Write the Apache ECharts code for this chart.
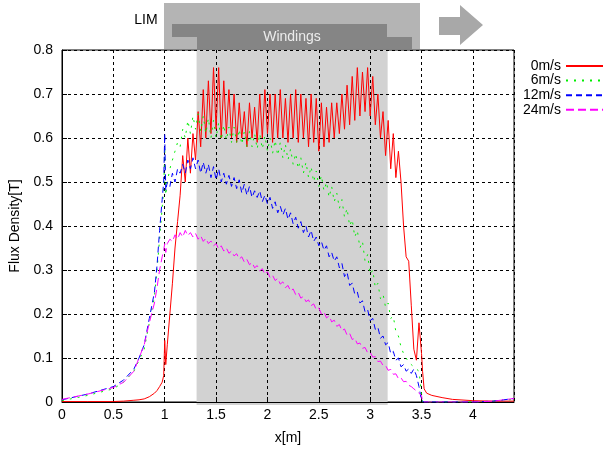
<!DOCTYPE html>
<html>
<head>
<meta charset="utf-8">
<script src="https://cdn.jsdelivr.net/npm/echarts@6/dist/echarts.min.js"></script>
<style>html,body{margin:0;padding:0;background:#fff;}#c{width:604px;height:451px;}</style>
</head>
<body>
<div id="c"></div>
<script>
// shared x positions [m]
const X = [
 0, 0.25, 0.5, 0.6, 0.7, 0.75, 0.8, 0.85, 0.9, 0.925,
 0.95, 0.975, 0.99, 1.0, 1.01, 1.025, 1.05, 1.075, 1.1, 1.125,
 1.15, 1.175, 1.2, 1.225, 1.25, 1.275, 1.3, 1.325, 1.35, 1.375,
 1.4, 1.425, 1.45, 1.475, 1.5, 1.525, 1.55, 1.575, 1.6, 1.625,
 1.65, 1.675, 1.7, 1.725, 1.75, 1.775, 1.8, 1.825, 1.85, 1.875,
 1.9, 1.925, 1.95, 1.975, 2.0, 2.025, 2.05, 2.075, 2.1, 2.125,
 2.15, 2.175, 2.2, 2.225, 2.25, 2.275, 2.3, 2.325, 2.35, 2.375,
 2.4, 2.425, 2.45, 2.475, 2.5, 2.525, 2.55, 2.575, 2.6, 2.625,
 2.65, 2.675, 2.7, 2.725, 2.75, 2.775, 2.8, 2.825, 2.85, 2.875,
 2.9, 2.925, 2.95, 2.975, 3.0, 3.025, 3.05, 3.075, 3.1, 3.125,
 3.15, 3.175, 3.2, 3.225, 3.25, 3.275, 3.3, 3.325, 3.35, 3.375,
 3.4, 3.425, 3.45, 3.475, 3.5, 3.51, 3.525, 3.55, 3.6, 3.7,
 3.8, 4.0, 4.2, 4.3, 4.4
];
// 0 m/s
const V0 = [
 0.001, 0.001, 0.001, 0.002, 0.004, 0.005, 0.007, 0.012, 0.02, 0.026,
 0.035, 0.045, 0.06, 0.14, 0.085, 0.13, 0.2, 0.27, 0.35, 0.41,
 0.47, 0.56, 0.5, 0.6, 0.52, 0.61, 0.55, 0.66, 0.58, 0.71,
 0.6, 0.73, 0.61, 0.76, 0.62, 0.76, 0.6, 0.73, 0.61, 0.71,
 0.6, 0.7, 0.59, 0.68, 0.6, 0.66, 0.58, 0.68, 0.6, 0.67,
 0.59, 0.7, 0.6, 0.71, 0.61, 0.7, 0.59, 0.7, 0.6, 0.71,
 0.6, 0.69, 0.59, 0.7, 0.6, 0.71, 0.59, 0.7, 0.6, 0.69,
 0.58, 0.7, 0.59, 0.69, 0.57, 0.68, 0.58, 0.67, 0.59, 0.68,
 0.6, 0.68, 0.61, 0.7, 0.62, 0.72, 0.63, 0.74, 0.64, 0.76,
 0.65, 0.75, 0.66, 0.76, 0.65, 0.74, 0.63, 0.7, 0.6, 0.66,
 0.56, 0.64, 0.53, 0.61, 0.51, 0.57, 0.5, 0.4, 0.33, 0.32,
 0.22, 0.12, 0.095, 0.18, 0.11, 0.07, 0.03, 0.02, 0.015, 0.01,
 0.006, 0.003, 0.002, 0.002, 0.002
];
// 6 m/s
const V6 = [
 0.003, 0.015, 0.03, 0.045, 0.07, 0.095, 0.12, 0.18, 0.24, 0.3,
 0.37, 0.44, 0.48, 0.58, 0.47, 0.5, 0.53, 0.55, 0.57, 0.59,
 0.58, 0.62, 0.6, 0.64, 0.61, 0.65, 0.62, 0.655, 0.615, 0.65,
 0.61, 0.645, 0.6, 0.64, 0.6, 0.635, 0.595, 0.63, 0.595, 0.625,
 0.59, 0.625, 0.59, 0.62, 0.585, 0.615, 0.58, 0.615, 0.58, 0.61,
 0.575, 0.61, 0.575, 0.605, 0.57, 0.6, 0.565, 0.595, 0.56, 0.59,
 0.555, 0.585, 0.55, 0.575, 0.54, 0.565, 0.53, 0.555, 0.52, 0.545,
 0.51, 0.535, 0.5, 0.525, 0.49, 0.515, 0.48, 0.5, 0.465, 0.49,
 0.455, 0.475, 0.44, 0.46, 0.42, 0.44, 0.4, 0.415, 0.375, 0.39,
 0.35, 0.365, 0.32, 0.335, 0.29, 0.3, 0.26, 0.27, 0.235, 0.245,
 0.215, 0.225, 0.19, 0.195, 0.16, 0.15, 0.125, 0.11, 0.1, 0.09,
 0.085, 0.08, 0.075, 0.07, 0.02, 0.0, 0.0, 0.0, 0.0, 0.0,
 0.0, 0.0, 0.002, 0.004, 0.006
];
// 12 m/s
const V12 = [
 0.005, 0.018, 0.035, 0.05, 0.075, 0.1, 0.13, 0.19, 0.25, 0.31,
 0.39, 0.46, 0.5, 0.61, 0.48, 0.5, 0.49, 0.52, 0.5, 0.53,
 0.52, 0.54, 0.52, 0.55, 0.53, 0.555, 0.53, 0.55, 0.52, 0.545,
 0.52, 0.54, 0.51, 0.535, 0.505, 0.53, 0.5, 0.52, 0.495, 0.515,
 0.49, 0.51, 0.485, 0.505, 0.475, 0.495, 0.47, 0.49, 0.465, 0.48,
 0.465, 0.48, 0.455, 0.47, 0.45, 0.465, 0.44, 0.455, 0.43, 0.445,
 0.425, 0.44, 0.415, 0.43, 0.405, 0.42, 0.395, 0.41, 0.385, 0.4,
 0.375, 0.39, 0.365, 0.375, 0.355, 0.365, 0.345, 0.355, 0.33, 0.34,
 0.32, 0.33, 0.305, 0.315, 0.285, 0.295, 0.265, 0.27, 0.245, 0.25,
 0.225, 0.23, 0.205, 0.21, 0.185, 0.19, 0.165, 0.17, 0.145, 0.15,
 0.13, 0.135, 0.11, 0.115, 0.095, 0.1, 0.08, 0.085, 0.07, 0.075,
 0.065, 0.075, 0.06, 0.035, 0.003, 0.0, 0.0, 0.0, 0.0, 0.0,
 0.0, 0.0, 0.002, 0.005, 0.008
];
// 24 m/s
const V24 = [
 0.006, 0.018, 0.033, 0.045, 0.07, 0.1, 0.13, 0.18, 0.225, 0.26,
 0.3, 0.33, 0.345, 0.36, 0.34, 0.36, 0.37, 0.365, 0.38, 0.37,
 0.385, 0.375, 0.39, 0.378, 0.385, 0.375, 0.383, 0.37, 0.378, 0.365,
 0.372, 0.36, 0.366, 0.355, 0.36, 0.348, 0.355, 0.343, 0.35, 0.338,
 0.343, 0.332, 0.337, 0.325, 0.33, 0.318, 0.324, 0.312, 0.317, 0.305,
 0.31, 0.298, 0.303, 0.29, 0.296, 0.283, 0.288, 0.276, 0.281, 0.268,
 0.273, 0.26, 0.265, 0.252, 0.257, 0.244, 0.249, 0.236, 0.24, 0.228,
 0.232, 0.219, 0.223, 0.21, 0.214, 0.2, 0.205, 0.191, 0.196, 0.182,
 0.186, 0.172, 0.176, 0.162, 0.166, 0.152, 0.156, 0.142, 0.145, 0.132,
 0.134, 0.122, 0.124, 0.112, 0.113, 0.102, 0.103, 0.092, 0.093, 0.083,
 0.083, 0.072, 0.074, 0.063, 0.064, 0.053, 0.055, 0.046, 0.047, 0.038,
 0.035, 0.03, 0.025, 0.02, 0.015, 0.0, 0.0, 0.0, 0.0, 0.0,
 0.0, 0.0, 0.002, 0.005, 0.008
];
const SERIES_NAMES = ['0m/s', '6m/s', '12m/s', '24m/s'];
const WINDINGS_BAND = [1.31, 3.17]; // x range of windings [m]

const FONT = 'Liberation Sans';
const pairs = (xs, ys) => xs.map((x, i) => [x, ys[i]]);
const chart = echarts.init(document.getElementById('c'), null, {renderer: 'canvas'});

function lineSeries(name, ys, color, dash) {
  return {
    name, type: 'line', data: pairs(X, ys), symbol: 'none', showSymbol: false,
    lineStyle: {color, width: 1, type: dash}, itemStyle: {color},
    z: 2, animation: false
  };
}

const option = {
  animation: false,
  grid: {left: 62, right: 90, top: 50, bottom: 49, show: true, borderColor: '#000', borderWidth: 1},
  xAxis: {
    type: 'value', min: 0, max: 4.4, interval: 0.5, z: 1,
    name: 'x[m]', nameLocation: 'middle', nameGap: 29,
    nameTextStyle: {fontFamily: FONT, fontSize: 14, color: '#000'},
    axisLine: {show: true, lineStyle: {color: '#000'}},
    axisTick: {show: true, inside: true, length: 5, lineStyle: {color: '#000'}},
    axisLabel: {fontFamily: FONT, fontSize: 14, color: '#000', margin: 6, showMaxLabel: false,
      formatter: v => (Math.abs(v - 4.4) < 1e-9 ? '' : String(v))},
    splitLine: {show: true, lineStyle: {color: '#000', type: [3, 3], width: 1}}
  },
  yAxis: {
    type: 'value', min: 0, max: 0.8, interval: 0.1, z: 1,
    name: 'Flux Density[T]', nameLocation: 'middle', nameGap: 36, nameRotate: 90,
    nameTextStyle: {fontFamily: FONT, fontSize: 14, color: '#000'},
    axisLine: {show: true, lineStyle: {color: '#000'}},
    axisTick: {show: true, inside: true, length: 5, lineStyle: {color: '#000'}},
    axisLabel: {fontFamily: FONT, fontSize: 14, color: '#000', margin: 9,
      formatter: v => String(Math.round(v * 10) / 10)},
    splitLine: {show: true, lineStyle: {color: '#000', type: [3, 3], width: 1}}
  },
  legend: {
    data: SERIES_NAMES, orient: 'vertical', right: 0, top: 59, align: 'right',
    padding: 0, itemWidth: 37, itemHeight: 14, itemGap: 0.6,
    itemStyle: {opacity: 0, borderWidth: 0},
    textStyle: {fontFamily: FONT, fontSize: 14, color: '#000', lineHeight: 14},
    selectedMode: false
  },
  series: [
    {
      type: 'custom', name: 'band', z: 0, silent: true, animation: false,
      data: [[WINDINGS_BAND[0], 0, WINDINGS_BAND[1]]],
      encode: {x: [0, 2], y: 1},
      renderItem: (params, api) => {
        const p0 = api.coord([api.value(0), 0.8]);
        const p1 = api.coord([api.value(2), 0]);
        return {type: 'rect', shape: {x: p0[0], y: p0[1], width: p1[0] - p0[0], height: p1[1] - p0[1] + 3},
          style: {fill: '#d2d2d2'}};
      }
    },
    lineSeries(SERIES_NAMES[0], V0, '#ff0000', 'solid'),
    lineSeries(SERIES_NAMES[1], V6, '#00ee00', [2, 6]),
    lineSeries(SERIES_NAMES[2], V12, '#0000ff', [6, 4]),
    lineSeries(SERIES_NAMES[3], V24, '#ff00ff', [8, 4])
  ],
  graphic: [
    {type: 'rect', shape: {x: 164, y: 3, width: 256, height: 46}, style: {fill: '#b4b4b4'}, z: 0},
    {type: 'polygon', shape: {points: [[172, 24], [387, 24], [387, 37], [412, 37], [412, 49], [197, 49], [197, 37], [172, 37]]},
      style: {fill: '#858585'}, z: 1},
    {type: 'text', style: {text: 'Windings', x: 292, y: 37, align: 'center', verticalAlign: 'middle',
      fill: '#ececec', font: '14px "Liberation Sans"'}, z: 2},
    {type: 'text', style: {text: 'LIM', x: 146, y: 20, align: 'center', verticalAlign: 'middle',
      fill: '#000', font: '14px "Liberation Sans"'}, z: 2},
    {type: 'polygon', shape: {points: [[439, 17], [460, 17], [460, 5], [483, 25], [460, 45], [460, 35], [439, 35]]},
      style: {fill: '#a8a8a8'}, z: 1}
  ]
};
chart.setOption(option);
</script>
</body>
</html>
